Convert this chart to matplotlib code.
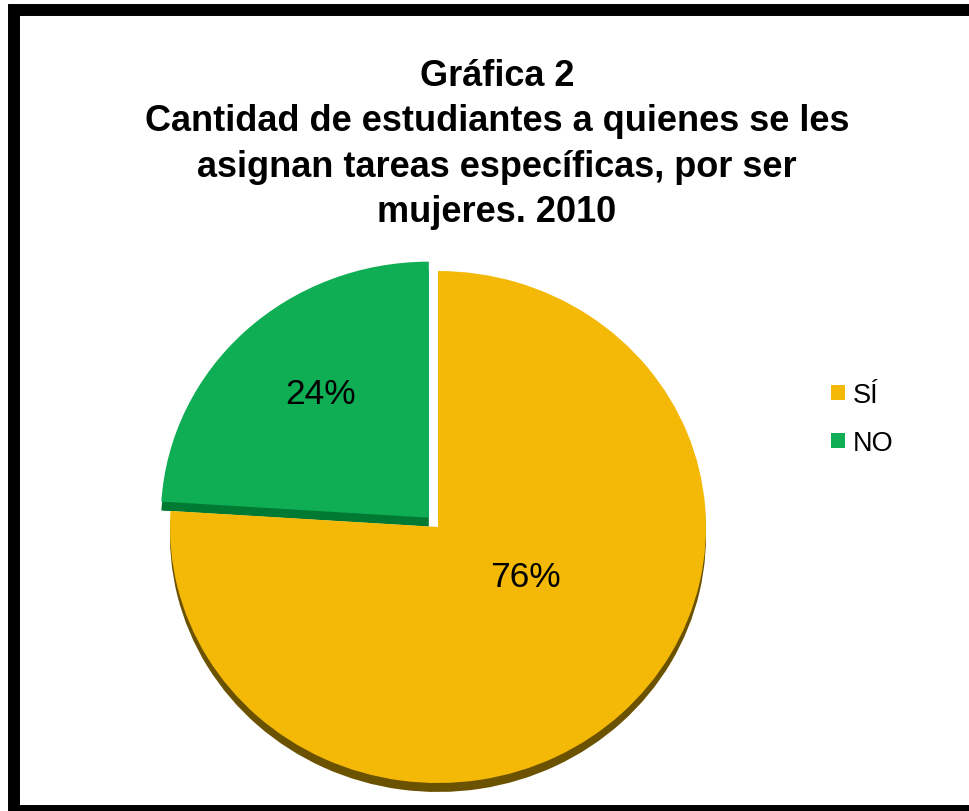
import numpy as np
import matplotlib.pyplot as plt
from matplotlib.patches import Rectangle

# Data
labels = ['SÍ', 'NO']
values = [76, 24]
colors = ['#F4B907', '#0FAE55']
side_colors = ['#6B5200', '#007A33']
explode = [0, 0.05]

title = ('Gráfica 2\nCantidad de estudiantes a quienes se les\n'
         'asignan tareas específicas, por ser\nmujeres. 2010')

plt.rcParams['font.family'] = ['Liberation Sans', 'DejaVu Sans']

W, H = 969, 812
fig = plt.figure(figsize=(W / 100, H / 100), dpi=100)
fig.patch.set_facecolor('white')

# pie axes, sized in pixels so the pie is slightly squashed (3D look)
cx, cy = 438, 528       # pie center, px from top-left
rx, ry = 268, 256       # radii, px
half = 300
ax = fig.add_axes([(cx - half) / W, (H - cy - half) / H, 2 * half / W, 2 * half / H])

# darker copy underneath for the slice thickness
ax.pie(values, colors=side_colors, startangle=90, counterclock=False,
       explode=explode, center=(0, -0.035), wedgeprops=dict(linewidth=0))
wedges, texts, autotexts = ax.pie(
    values, colors=colors, startangle=90, counterclock=False, explode=explode,
    autopct='%d%%', pctdistance=0.64, wedgeprops=dict(linewidth=0),
    textprops=dict(fontsize=25.5, color='black'))
autotexts[0].set_position((0.325, -0.195))
autotexts[1].set_position((-0.44, 0.52))

ax.set_aspect('auto')
ax.set_xlim(-half / rx, half / rx)
ax.set_ylim(-half / ry, half / ry)
ax.axis('off')

# legend
fig.legend(wedges, labels, loc='center left', bbox_to_anchor=(831 / W, 1 - 420 / H),
           frameon=False, fontsize=19.5, handlelength=0.5, handleheight=0.5,
           handletextpad=0.3, labelspacing=0.8, borderpad=0, borderaxespad=0)

# title
fig.text(497 / W, 1 - 59 / H, title, ha='center', va='top', fontsize=26,
         fontweight='bold', linespacing=1.38)

# thick black frame (right side is cut off in the original)
fig.patches.append(Rectangle((14 / W, 0), 1.2, 1 - 11 / H, transform=fig.transFigure,
                             fill=False, edgecolor='black', linewidth=8.6, zorder=10))

fig.savefig('out.png', dpi=100)
